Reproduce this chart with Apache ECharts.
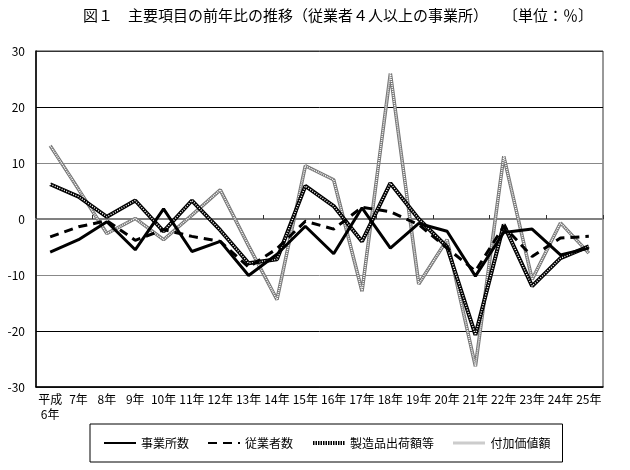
<!DOCTYPE html>
<html><head><meta charset="utf-8">
<script src="https://cdn.jsdelivr.net/npm/echarts@6/dist/echarts.min.js"></script>
<style>html,body{margin:0;padding:0;background:#fff}#c{width:630px;height:470px}</style>
</head><body><div id="c"></div>
<script>
const years = ['平成\n6年','7年','8年','9年','10年','11年','12年','13年','14年','15年','16年','17年','18年','19年','20年','21年','22年','23年','24年','25年'];
const jigyosho = [-5.9, -3.7, -0.5, -5.5, 1.8, -5.8, -4.0, -10.1, -6.3, -1.3, -6.2, 2.0, -5.2, -0.8, -2.2, -10.2, -2.4, -1.8, -6.4, -5.2];
const jugyosha = [-3.2, -1.4, -0.3, -3.8, -1.9, -3.1, -4.0, -8.6, -5.3, -0.4, -1.8, 2.1, 1.3, -1.0, -5.2, -9.3, -1.3, -6.7, -3.4, -3.1];
const seizohin = [6.2, 4.0, 0.4, 3.3, -2.2, 3.3, -2.0, -7.9, -7.2, 5.9, 2.3, -4.0, 6.4, 0.0, -5.0, -20.7, -1.0, -12.0, -7.0, -4.9];
const fukakachi = [13.1, 5.3, -2.6, 0.1, -3.7, 0.7, 5.2, -4.8, -14.4, 9.5, 7.0, -12.9, 26.0, -11.6, -3.7, -26.3, 11.2, -10.8, -0.7, -6.1];
const yTicks = {min: -30, max: 30, interval: 10};
const titleText = '図１　主要項目の前年比の推移（従業者４人以上の事業所）　　〔単位：％〕';
const names = ['事業所数', '従業者数', '製造品出荷額等', '付加価値額'];

const FONT = '"Noto Sans CJK JP", "DejaVu Sans", sans-serif';
const chart = echarts.init(document.getElementById('c'), null, {renderer: 'canvas'});
chart.setOption({
  animation: false,
  backgroundColor: '#fff',
  textStyle: {fontFamily: FONT, color: '#000'},
  title: {text: titleText, left: 78, top: 3, textStyle: {fontSize: 15, fontWeight: 'normal', color: '#000', fontFamily: FONT}},
  grid: {left: 36, right: 27, top: 51, bottom: 83, show: true, borderColor: '#333', borderWidth: 1, containLabel: false},
  legend: {
    data: [
      {name: names[0]},
      {name: names[1]},
      {name: names[2], lineStyle: {color: '#000', width: 4, type: [1.5, 1]}},
      {name: names[3], lineStyle: {color: '#999', width: 3, type: [1, 1]}}
    ],
    left: 90, top: 424, orient: 'horizontal',
    borderColor: '#000', borderWidth: 1, padding: [13, 12, 13, 13],
    itemWidth: 32, itemHeight: 14, itemGap: 18,
    itemStyle: {opacity: 0},
    textStyle: {fontSize: 12, color: '#000', fontFamily: FONT}
  },
  xAxis: [{
    type: 'category', data: years, position: 'bottom', boundaryGap: true,
    axisLine: {onZero: false, lineStyle: {color: '#000', width: 1.5}},
    axisTick: {show: false},
    axisLabel: {interval: 0, fontSize: 12, lineHeight: 15, margin: 5, color: '#000', fontFamily: FONT, align: 'center'}
  }, {
    type: 'category', data: years, position: 'top', boundaryGap: true,
    axisLine: {show: true, onZero: true, lineStyle: {color: '#808080', width: 2}},
    axisTick: {show: true, length: 4, lineStyle: {color: '#333', width: 1}},
    axisLabel: {show: false}
  }],
  yAxis: {
    type: 'value', min: yTicks.min, max: yTicks.max, interval: yTicks.interval,
    axisLine: {show: true, lineStyle: {color: '#000', width: 1.5}},
    axisTick: {show: false},
    axisLabel: {fontSize: 12, margin: 11, color: '#000', fontFamily: FONT},
    splitLine: {show: true, lineStyle: {color: ['#333', '#000', '#888', '#888', '#888', '#000', '#333'], width: 1}}
  },
  series: [
    {name: '付加価値額', type: 'line', data: fukakachi, showSymbol: false, symbol: 'none', z: 2,
     lineStyle: {color: '#777', width: 3.5}, itemStyle: {color: '#999'}},
    {name: '付加価値額_hl', type: 'line', data: fukakachi, showSymbol: false, symbol: 'none', z: 2, silent: true,
     lineStyle: {color: '#fff', width: 1.5, type: [1, 1]}},
    {name: '製造品出荷額等', type: 'line', data: seizohin, showSymbol: false, symbol: 'none', z: 3,
     lineStyle: {color: '#000', width: 4}, itemStyle: {color: '#000'}},
    {name: '製造品出荷額等_hl', type: 'line', data: seizohin, showSymbol: false, symbol: 'none', z: 3, silent: true,
     lineStyle: {color: '#fff', width: 1.5, type: [1, 1.5]}},
    {name: '従業者数', type: 'line', data: jugyosha, showSymbol: false, symbol: 'none', z: 4,
     lineStyle: {color: '#000', width: 3, type: [9, 6]}, itemStyle: {color: '#000'}},
    {name: '事業所数', type: 'line', data: jigyosho, showSymbol: false, symbol: 'none', z: 5,
     lineStyle: {color: '#000', width: 3}, itemStyle: {color: '#000'}}
  ]
});
</script>
</body></html>
